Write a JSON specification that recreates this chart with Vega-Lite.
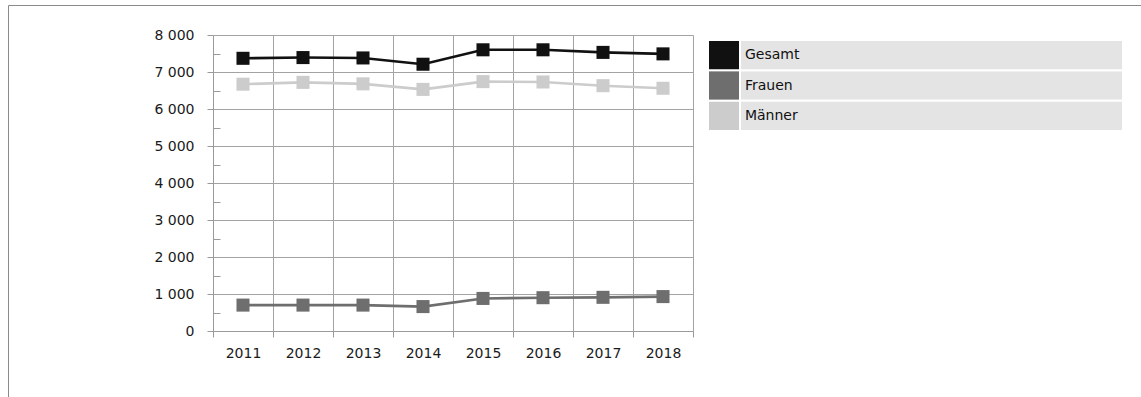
{
  "$schema": "https://vega.github.io/schema/vega-lite/v6.json",
  "autosize": {"type": "none"},
  "padding": {"left": 8, "top": 5, "right": 0, "bottom": 0},
  "width": 1133,
  "height": 392,
  "background": "white",
  "config": {
    "view": {"stroke": "#8a8a8a", "strokeWidth": 1},
    "font": "DejaVu Sans",
    "axis": {
      "labelFont": "DejaVu Sans",
      "labelFontSize": 14,
      "labelColor": "#1a1a1a",
      "domainColor": "#9a9a9a",
      "tickColor": "#9a9a9a",
      "gridColor": "#a3a3a3",
      "gridWidth": 1,
      "domainWidth": 1,
      "tickWidth": 1,
      "title": null
    }
  },
  "data": {
    "values": [
      {"year": "2011", "series": "Gesamt", "value": 7370},
      {"year": "2012", "series": "Gesamt", "value": 7390},
      {"year": "2013", "series": "Gesamt", "value": 7380},
      {"year": "2014", "series": "Gesamt", "value": 7210},
      {"year": "2015", "series": "Gesamt", "value": 7600},
      {"year": "2016", "series": "Gesamt", "value": 7600},
      {"year": "2017", "series": "Gesamt", "value": 7530},
      {"year": "2018", "series": "Gesamt", "value": 7490},
      {"year": "2011", "series": "Frauen", "value": 700},
      {"year": "2012", "series": "Frauen", "value": 700},
      {"year": "2013", "series": "Frauen", "value": 700},
      {"year": "2014", "series": "Frauen", "value": 660},
      {"year": "2015", "series": "Frauen", "value": 880},
      {"year": "2016", "series": "Frauen", "value": 900},
      {"year": "2017", "series": "Frauen", "value": 910},
      {"year": "2018", "series": "Frauen", "value": 930},
      {"year": "2011", "series": "Männer", "value": 6670},
      {"year": "2012", "series": "Männer", "value": 6720},
      {"year": "2013", "series": "Männer", "value": 6680},
      {"year": "2014", "series": "Männer", "value": 6530},
      {"year": "2015", "series": "Männer", "value": 6740},
      {"year": "2016", "series": "Männer", "value": 6730},
      {"year": "2017", "series": "Männer", "value": 6630},
      {"year": "2018", "series": "Männer", "value": 6560}
    ]
  },
  "layer": [
    {
      "encoding": {
        "y": {
          "field": "value",
          "type": "quantitative",
          "scale": {"domain": [0, 8000], "range": [326, 30], "nice": false, "zero": true},
          "axis": {
            "orient": "left",
            "offset": -205,
            "values": [0, 500, 1000, 1500, 2000, 2500, 3000, 3500, 4000, 4500, 5000, 5500, 6000, 6500, 7000, 7500, 8000],
            "labelExpr": "datum.value % 1000 === 0 ? replace(format(datum.value, ','), ',', ' ') : ''",
            "grid": true,
            "gridOpacity": {"condition": {"test": "datum.value % 1000 === 0", "value": 1}, "value": 0},
            "tickSize": {"condition": {"test": "datum.value % 1000 === 0", "value": 6}, "value": -7},
            "labelPadding": 13
          }
        },
        "color": {
          "field": "series",
          "type": "nominal",
          "scale": {"domain": ["Gesamt", "Frauen", "Männer"], "range": ["#111111", "#6e6e6e", "#cccccc"]},
          "legend": null
        },
        "detail": {"field": "series"}
      },
      "layer": [
        {
          "mark": {"type": "line", "strokeWidth": 2.6},
          "encoding": {
            "x": {
              "field": "year",
              "type": "ordinal",
              "bandPosition": 0.5,
              "scale": {"type": "band", "range": [205, 685], "paddingInner": 0, "paddingOuter": 0},
              "axis": {
                "orient": "bottom",
                "offset": -66,
                "labelAngle": 0,
                "tickBand": "extent",
                "tickSize": 6,
                "labelPadding": 9,
                "grid": false
              }
            }
          }
        },
        {
          "mark": {"type": "point", "shape": "square", "filled": true, "opacity": 1, "size": 170},
          "encoding": {
            "x": {
              "field": "year",
              "type": "ordinal",
              "bandPosition": 0.5,
              "scale": {"type": "band", "range": [205, 685], "paddingInner": 0, "paddingOuter": 0},
              "axis": {
                "orient": "top",
                "tickBand": "extent",
                "grid": true,
                "labels": false,
                "ticks": false,
                "domain": false
              }
            }
          }
        }
      ],
      "resolve": {"axis": {"x": "independent"}}
    },
    {
      "transform": [{"filter": "datum.year === '2011'"}],
      "encoding": {
        "y": {
          "field": "series",
          "type": "nominal",
          "sort": ["Gesamt", "Frauen", "Männer"],
          "scale": {"type": "band", "range": [36, 125], "paddingInner": 0.07, "paddingOuter": 0},
          "axis": null
        }
      },
      "layer": [
        {
          "mark": {"type": "rect", "color": "#e4e4e4"},
          "encoding": {
            "x": {"datum": 0.0775, "type": "quantitative", "scale": {"domain": [0, 1], "range": [701, 1114]}, "axis": null},
            "x2": {"datum": 1}
          }
        },
        {
          "mark": {"type": "rect"},
          "encoding": {
            "x": {"datum": 0, "type": "quantitative", "scale": {"domain": [0, 1], "range": [701, 1114]}, "axis": null},
            "x2": {"datum": 0.0726},
            "color": {
              "field": "series",
              "type": "nominal",
              "scale": {"domain": ["Gesamt", "Frauen", "Männer"], "range": ["#111111", "#6e6e6e", "#cccccc"]},
              "legend": null
            }
          }
        },
        {
          "mark": {"type": "text", "align": "left", "baseline": "middle", "fontSize": 14, "color": "#111111", "font": "DejaVu Sans"},
          "encoding": {
            "x": {"datum": 0.087, "type": "quantitative", "scale": {"domain": [0, 1], "range": [701, 1114]}, "axis": null},
            "text": {"field": "series"}
          }
        }
      ]
    }
  ],
  "resolve": {"scale": {"x": "independent", "y": "independent"}}
}
